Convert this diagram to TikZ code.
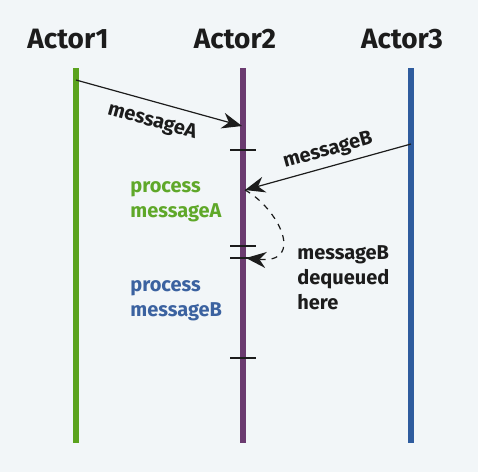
\documentclass[tikz,border=0pt]{standalone}
\usepackage{fontspec}
\setmainfont{Fira Sans}
\usetikzlibrary{arrows.meta,positioning}
\definecolor{bgcol}{HTML}{F2F6F8}
\definecolor{greenline}{HTML}{5BA31E}
\definecolor{purpleline}{HTML}{6B3B70}
\definecolor{blueline}{HTML}{2F5C9E}
\definecolor{greentext}{HTML}{5FA829}
\definecolor{bluetext}{HTML}{3B62A0}
\definecolor{inktext}{HTML}{1C1C1C}

\begin{document}
\begin{tikzpicture}[x=0.5pt,y=-0.5pt]
       \tikzstyle{actor}=[font=\fontsize{14}{16}\selectfont\bfseries, text=inktext]
       \tikzstyle{lifeline}=[line width=2.8pt]
       \tikzstyle{msg}=[-{Stealth[length=10pt,width=8pt]}, line width=0.6pt, draw=inktext]
       \tikzstyle{lbl}=[font=\fontsize{10}{12.5}\selectfont\bfseries, align=left, inner sep=0pt, anchor=west]
       \tikzstyle{tick}=[line width=0.6pt, draw=inktext]

       \fill[bgcol] (0,0) rectangle (478,472);

       \node[actor] (a1) at (68,39)  {Actor1};
       \node[actor] (a2) at (235,39) {Actor2};
       \node[actor] (a3) at (402,39) {Actor3};

       \coordinate (top1) at (76,68);  \coordinate (bot1) at (76,443);
       \coordinate (top2) at (243,68); \coordinate (bot2) at (243,443);
       \coordinate (top3) at (411,68); \coordinate (bot3) at (411,443);

       \draw[lifeline, greenline]  (top1) -- (bot1);
       \draw[lifeline, purpleline] (top2) -- (bot2);
       \draw[lifeline, blueline]   (top3) -- (bot3);

       \coordinate (sendA) at (76,80);   \coordinate (recvA) at (242,126);
       \coordinate (sendB) at (411,144); \coordinate (recvB) at (245,190);
       \coordinate (deq)   at (246,258);

       \foreach \y in {150,246,258,358}
              \draw[tick] (230,\y) -- (256,\y);

       \draw[msg] (sendA) -- (recvA);
       \draw[msg] (sendB) -- (recvB);
       \draw[msg, dashed] (recvB) .. controls (278,208) and (306,264) .. (deq);

       \node[lbl, anchor=center, rotate=-15.5, text=inktext] (labA) at (152,122) {messageA};
       \node[lbl, anchor=center, rotate=15.5, text=inktext]  (labB) at (328,151) {messageB};

       \node[lbl, text=greentext] (procA) at (130,202) {process\\messageA};
       \node[lbl, text=bluetext]  (procB) at (130,301) {process\\messageB};
       \node[lbl, text=inktext]   (note)  at (297,278) {messageB\\dequeued\\here};
\end{tikzpicture}
\end{document}
